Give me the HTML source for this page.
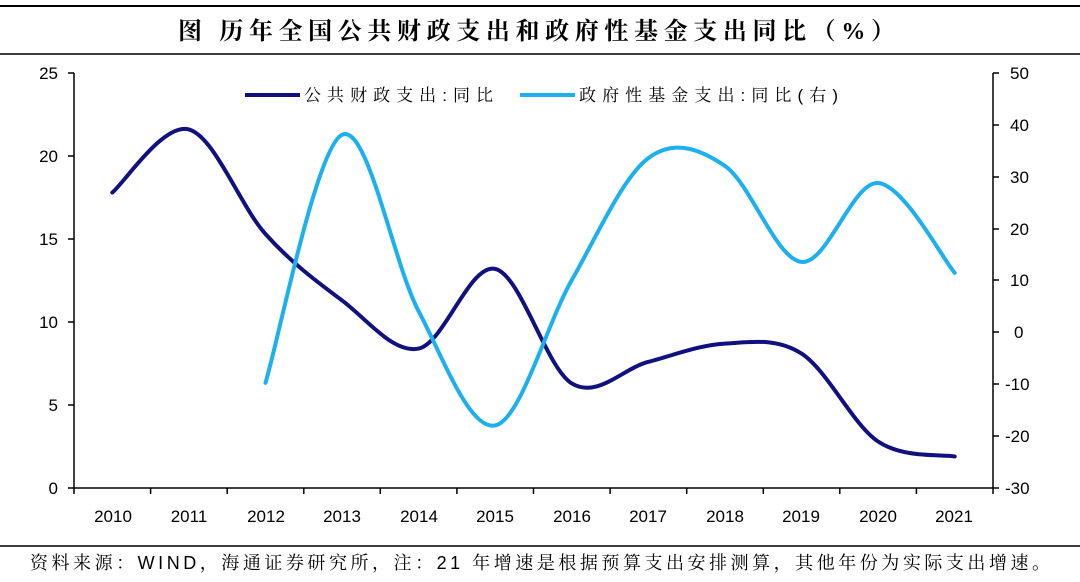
<!DOCTYPE html>
<html><head><meta charset="utf-8"><style>
body{margin:0;background:#fff;width:1080px;height:577px;overflow:hidden}
svg text{font-family:"Liberation Sans","Noto Serif CJK SC",serif}
</style></head><body>
<svg width="1080" height="577" viewBox="0 0 1080 577" xmlns="http://www.w3.org/2000/svg">
<line x1="0" y1="6" x2="1080" y2="6" stroke="#000" stroke-width="2"/>
<line x1="0" y1="54" x2="1080" y2="54" stroke="#000" stroke-width="1.5"/>
<text x="178" y="39" font-size="24" textLength="717" lengthAdjust="spacing" style="font-family:'Liberation Serif','Noto Serif CJK SC',serif" font-weight="bold">图 历年全国公共财政支出和政府性基金支出同比（%）</text>
<line x1="0" y1="546" x2="1080" y2="546" stroke="#000" stroke-width="1.5"/>
<text x="30" y="569" font-size="18" textLength="1020" lengthAdjust="spacing">资料来源：WIND，海通证券研究所，注：21 年增速是根据预算支出安排测算，其他年份为实际支出增速。</text>
<g stroke="#000" stroke-width="1.5" fill="none">
<path d="M74 73V488H993V73"/>
<path d="M68 73H74M68 156H74M68 239H74M68 322H74M68 405H74M68 488H74"/>
<path d="M993 73H999M993 125H999M993 177H999M993 229H999M993 280H999M993 332H999M993 384H999M993 436H999M993 488H999"/>
<path d="M74 488v6M150.6 488v6M227.2 488v6M303.8 488v6M380.3 488v6M456.9 488v6M533.5 488v6M610.1 488v6M686.7 488v6M763.3 488v6M839.8 488v6M916.4 488v6M993 488v6"/>
</g>
<g font-size="17" text-anchor="end">
<text x="58" y="79">25</text><text x="58" y="162">20</text><text x="58" y="245">15</text><text x="58" y="328">10</text><text x="58" y="411">5</text><text x="58" y="494">0</text>
</g>
<g font-size="17" text-anchor="start">
<text x="1010" y="79">50</text><text x="1010" y="131">40</text><text x="1010" y="183">30</text><text x="1010" y="235">20</text><text x="1010" y="286">10</text><text x="1014" y="338">0</text><text x="1005" y="390">-10</text><text x="1005" y="442">-20</text><text x="1005" y="494">-30</text>
</g>
<g font-size="17" text-anchor="middle">
<text x="113" y="522">2010</text><text x="189" y="522">2011</text><text x="266" y="522">2012</text><text x="342" y="522">2013</text><text x="419" y="522">2014</text><text x="495" y="522">2015</text><text x="572" y="522">2016</text><text x="648" y="522">2017</text><text x="725" y="522">2018</text><text x="801" y="522">2019</text><text x="878" y="522">2020</text><text x="954" y="522">2021</text>
</g>
<line x1="245" y1="95" x2="300" y2="95" stroke="#10107f" stroke-width="4"/>
<text x="304" y="101" font-size="17" textLength="189" lengthAdjust="spacing">公共财政支出:同比</text>
<line x1="520" y1="95" x2="575" y2="95" stroke="#1cb0ef" stroke-width="4"/>
<text x="579" y="101" font-size="17" textLength="259" lengthAdjust="spacing">政府性基金支出:同比(右)</text>
<path id="p1" fill="none" stroke="#10107f" stroke-width="4" stroke-linecap="round"/>
<path id="p2" fill="none" stroke="#1cb0ef" stroke-width="4" stroke-linecap="round"/>
</svg>
<script>
function cr(pts){let d="M"+pts[0][0]+" "+pts[0][1];for(let i=0;i<pts.length-1;i++){const p0=pts[i-1]||pts[i],p1=pts[i],p2=pts[i+1],p3=pts[i+2]||p2;const t=6;d+=" C"+(p1[0]+(p2[0]-p0[0])/t)+" "+(p1[1]+(p2[1]-p0[1])/t)+" "+(p2[0]-(p3[0]-p1[0])/t)+" "+(p2[1]-(p3[1]-p1[1])/t)+" "+p2[0]+" "+p2[1];}return d;}
const xs=i=>112.3+i*76.58;
const a=[17.8,21.6,15.3,11.3,8.4,13.2,6.3,7.6,8.7,8.1,2.8,1.9].map((v,i)=>[xs(i),488-v*16.6]);
const b=[-9.8,38,4,-18,10,33.5,32,13.5,28.7,11.4].map((v,i)=>[xs(i+2),332-v*5.19]);
document.getElementById("p1").setAttribute("d",cr(a));
document.getElementById("p2").setAttribute("d",cr(b));
</script>
</body></html>
